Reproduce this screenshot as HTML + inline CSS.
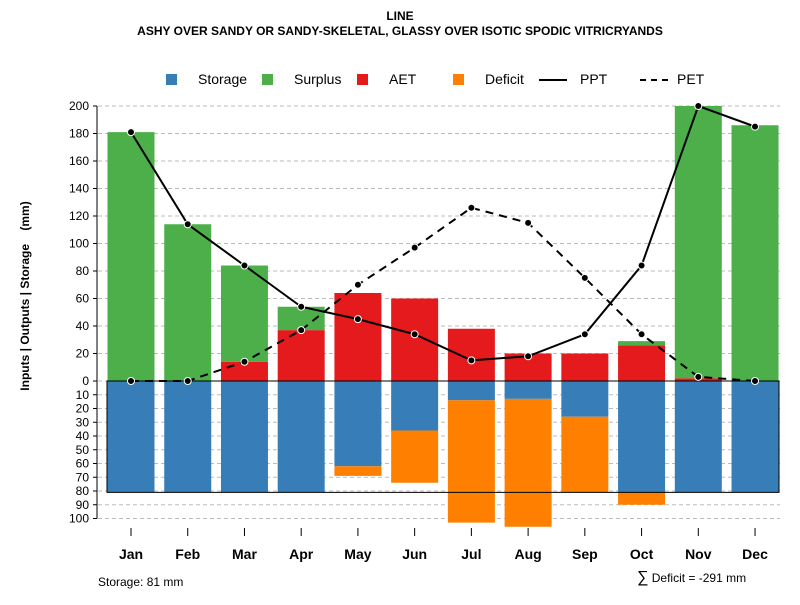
<!DOCTYPE html>
<html><head><meta charset="utf-8"><style>
body{margin:0;background:#fff;font-family:"Liberation Sans",sans-serif}
svg text{font-family:"Liberation Sans",sans-serif}
</style></head><body>
<svg id="c" width="800" height="600"></svg>
<script>
const months=["Jan","Feb","Mar","Apr","May","Jun","Jul","Aug","Sep","Oct","Nov","Dec"];
const surplus=[181,114,70,17,0,0,0,0,0,3,198,186];
const aet=[0,0,14,37,64,60,38,20,20,26,2,0];
const storage=[81,81,81,81,62,36,14,13,26,81,81,81];
const deficit=[0,0,0,0,7,38,89,93,55,9,0,0];
const ppt=[181,114,84,54,45,34,15,18,34,84,200,185];
const pet=[0,0,14,37,70,97,126,115,75,34,3,0];
const upTicks=[0,20,40,60,80,100,120,140,160,180,200];
const downTicks=[10,20,30,40,50,60,70,80,90,100];
const NS="http://www.w3.org/2000/svg";
const svg=document.getElementById('c');
const y0=381,k=1.375;
const yUp=v=>y0-v*k, yDn=v=>y0+v*k;
const x=i=>131+i*56.73;
const bw=47;
function el(t,a,p){const e=document.createElementNS(NS,t);for(const n in a)e.setAttribute(n,a[n]);(p||svg).appendChild(e);return e;}
// grid
upTicks.forEach(v=>{
  const g=el('line',{x1:98,x2:780,y1:yUp(v),y2:yUp(v),stroke:'#bbb','stroke-dasharray':'4,3'});
  
  const t=el('text',{x:89,y:yUp(v)+4,'text-anchor':'end','font-size':12});t.textContent=v;
  
  el('line',{x1:93,x2:97,y1:yUp(v),y2:yUp(v),stroke:'#000'});
});
downTicks.forEach(v=>{
  const g=el('line',{x1:98,x2:780,y1:yDn(v),y2:yDn(v),stroke:'#bbb','stroke-dasharray':'4,3'});
  
  const t=el('text',{x:89,y:yDn(v)+4,'text-anchor':'end','font-size':12});t.textContent=v;
  
  el('line',{x1:93,x2:97,y1:yDn(v),y2:yDn(v),stroke:'#000'});
});
el('line',{x1:97,x2:97,y1:yUp(200),y2:yDn(100),stroke:'#000'});
// bars
months.forEach((m,i)=>{
  const cx=x(i),l=cx-bw/2;
  function r(y1,y2,c,n){if(Math.abs(y2-y1)<0.01)return;const e=el('rect',{x:l,y:Math.min(y1,y2),width:bw,height:Math.abs(y2-y1),fill:c});
    }
  r(yUp(0),yUp(aet[i]),'#e41a1c','aet-bar');
  r(yUp(aet[i]),yUp(aet[i]+surplus[i]),'#4daf4a','surplus-bar');
  r(yDn(0),yDn(storage[i]),'#377eb8','storage-bar');
  r(yDn(storage[i]),yDn(storage[i]+deficit[i]),'#ff7f00','deficit-bar');
  el('line',{x1:cx,x2:cx,y1:528,y2:536,stroke:'#000'});
  const t=el('text',{x:cx,y:559,'text-anchor':'middle','font-size':14,'font-weight':'bold'});t.textContent=m;
  
});
const box=el('rect',{x:107,y:yDn(0),width:672,height:81*k,fill:'none',stroke:'#000'});

function line(d,dash,n){
  const p=el('polyline',{points:d.map((v,i)=>x(i)+','+yUp(v)).join(' '),fill:'none',stroke:'#000','stroke-width':2,'stroke-dasharray':dash});
  
  d.forEach((v,i)=>{const c=el('circle',{cx:x(i),cy:yUp(v),r:3.5,fill:'#000',stroke:'#fff','stroke-width':1});
    });
}
line(ppt,'none','ppt-line');
line(pet,'8,6','pet-line');
</script>
<div style="position:absolute;left:0;top:0;width:800px;height:600px;pointer-events:none">
<div style="position:absolute;top:9px;width:800px;text-align:center;font-size:12px;font-weight:bold;line-height:15px">LINE<br>ASHY OVER SANDY OR SANDY-SKELETAL, GLASSY OVER ISOTIC SPODIC VITRICRYANDS</div>
<div style="position:absolute;left:25px;top:296px;transform:translate(-50%,-50%) rotate(-90deg);white-space:pre;font-size:12px;font-weight:bold">Inputs | Outputs | Storage    (mm)</div>
<div style="position:absolute;top:70px;left:0;font-size:14px;height:20px">
<div><span style="position:absolute;left:166px;top:4px;width:11px;height:11px;background:#377eb8"></span><span style="position:absolute;left:198px;top:1px">Storage</span></div>
<div><span style="position:absolute;left:262px;top:4px;width:11px;height:11px;background:#4daf4a"></span><span style="position:absolute;left:294px;top:1px">Surplus</span></div>
<div><span style="position:absolute;left:357px;top:4px;width:11px;height:11px;background:#e41a1c"></span><span style="position:absolute;left:389px;top:1px">AET</span></div>
<div><span style="position:absolute;left:453px;top:4px;width:11px;height:11px;background:#ff7f00"></span><span style="position:absolute;left:485px;top:1px">Deficit</span></div>
<div><span style="position:absolute;left:539px;top:9px;width:28px;height:2px;background:#000"></span><span style="position:absolute;left:580px;top:1px">PPT</span></div>
<div><span style="position:absolute;left:640px;top:9px;width:28px;height:0;border-top:2px dashed #000"></span><span style="position:absolute;left:677px;top:1px">PET</span></div>
</div>
<div style="position:absolute;left:98px;top:575px;font-size:12px">Storage: 81 mm</div>
<div style="position:absolute;left:637px;top:569px;font-size:12px"><span style="font-size:16px">∑</span> Deficit = -291 mm</div>
</div>
</body></html>
